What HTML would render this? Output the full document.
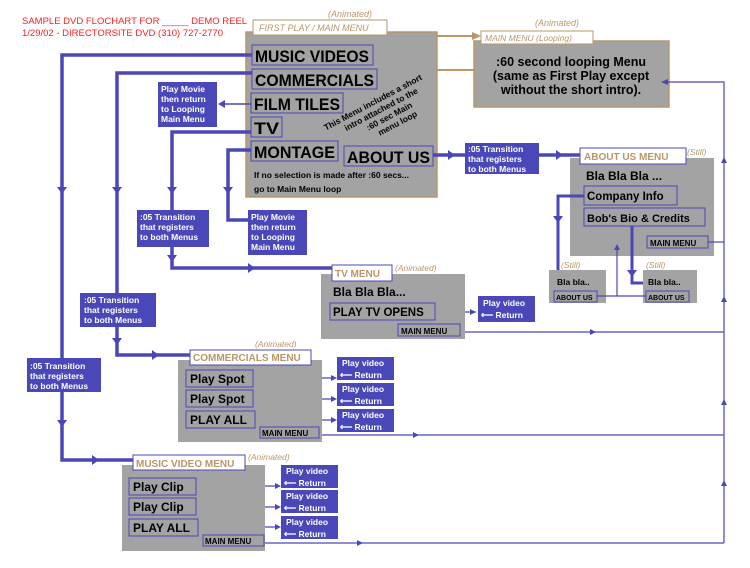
<!DOCTYPE html>
<html><head><meta charset="utf-8"><style>
body{margin:0;background:#fff}
svg{display:block}
text{font-family:"Liberation Sans",sans-serif}
.b{font-weight:bold}
</style></head><body>
<svg width="750" height="568" viewBox="0 0 750 568" xmlns="http://www.w3.org/2000/svg">
<defs>
<marker id="ar" viewBox="0 0 10 10" refX="5" refY="5" markerWidth="4" markerHeight="4" orient="auto"><path d="M0,0L10,5L0,10z" fill="#4a47b8"/></marker>
</defs>
<!-- title -->
<text x="22" y="24" font-size="9.5" fill="#ff2020">SAMPLE DVD FLOCHART FOR _____ DEMO REEL</text>
<text x="22" y="36" font-size="9.5" fill="#ff2020">1/29/02 - DIRECTORSITE DVD (310) 727-2770</text>

<!-- first play box -->
<rect x="246" y="32" width="191" height="165" fill="#a3a3a3" stroke="#b8976a" stroke-width="1.5"/>
<rect x="253" y="20" width="134" height="15" fill="#fff" stroke="#b8976a"/>
<text x="259" y="31" font-size="9" font-style="italic" fill="#b8976a">FIRST PLAY / MAIN MENU</text>
<text x="328" y="17" font-size="9" font-style="italic" fill="#b8976a">(Animated)</text>
<g stroke="#4a47b8" fill="none">
<rect x="252" y="45" width="121" height="20"/><rect x="252" y="69" width="125" height="20"/>
<rect x="251" y="93" width="92" height="20"/><rect x="251" y="117" width="31" height="20"/>
<rect x="251" y="141" width="87" height="20"/><rect x="344" y="146" width="89" height="20"/>
</g>
<g class="b" font-size="17" fill="#000" font-weight="bold">
<text x="255" y="62" textLength="114" lengthAdjust="spacingAndGlyphs">MUSIC VIDEOS</text>
<text x="255" y="86" textLength="119" lengthAdjust="spacingAndGlyphs">COMMERCIALS</text>
<text x="254" y="110" textLength="86" lengthAdjust="spacingAndGlyphs">FILM TILES</text>
<text x="254" y="134" textLength="25" lengthAdjust="spacingAndGlyphs">TV</text>
<text x="254" y="158" textLength="81" lengthAdjust="spacingAndGlyphs">MONTAGE</text>
<text x="347" y="163" textLength="83" lengthAdjust="spacingAndGlyphs">ABOUT US</text>
</g>
<text x="254" y="178" font-size="8.5" font-weight="bold">If no selection is made after :60 secs...</text>
<text x="254" y="192" font-size="8.5" font-weight="bold">go to Main Menu loop</text>
<g transform="translate(378,112) rotate(-28)" font-size="8.5" font-weight="bold" text-anchor="middle">
<text x="0" y="-8">This Menu includes a short</text>
<text x="4" y="2">intro attached to the</text>
<text x="8" y="12">:60 sec Main</text>
<text x="12" y="22">menu loop</text>
</g>

<!-- main menu looping -->
<rect x="474" y="41" width="195" height="66" fill="#a3a3a3" stroke="#b8976a" stroke-width="1.5"/>
<rect x="481" y="31" width="112" height="13" fill="#fff" stroke="#b8976a"/>
<text x="485" y="41" font-size="8.5" font-style="italic" fill="#b8976a">MAIN MENU (Looping)</text>
<text x="535" y="26" font-size="9" font-style="italic" fill="#b8976a">(Animated)</text>
<g font-size="12.5" font-weight="bold" text-anchor="middle">
<text x="571" y="66">:60 second looping Menu</text>
<text x="571" y="80">(same as First Play except</text>
<text x="571" y="94">without the short intro).</text>
</g>
<g stroke="#b8976a" stroke-width="2"><line x1="437" y1="36" x2="478" y2="36"/><line x1="437" y1="70" x2="474" y2="70"/></g>
<path d="M472,32L481,36L472,40z" fill="#b8976a"/>

<!-- left blue lines -->
<g stroke="#4a47b8" stroke-width="3.5" fill="none">
<polyline points="252,55 62,55 62,460 133,460"/>
<polyline points="252,73 117,73 117,355 190,355"/>
<polyline points="251,132 172,132 172,268 333,268"/>
<polyline points="251,150 228,150 228,220 248,220"/>
<polyline points="433,155 580,155"/>
</g>
<g fill="#4a47b8">
<path d="M57,187h10l-5,7z"/><path d="M112,187h10l-5,7z"/><path d="M167,187h10l-5,7z"/><path d="M223,187h10l-5,7z"/>
<path d="M167,255h10l-5,7z"/><path d="M112,338h10l-5,7z"/><path d="M57,420h10l-5,7z"/>
<path d="M92,455v10l7,-5z"/><path d="M152,350v10l7,-5z"/><path d="M248,263v10l7,-5z"/>
<path d="M448,150v10l7,-5z"/><path d="M556,150v10l7,-5z"/>
<path d="M225,100v8l-7,-4z"/>
</g>
<line x1="251" y1="104" x2="222" y2="104" stroke="#4a47b8" stroke-width="1.5"/>

<!-- blue boxes -->
<g fill="#4a47b8">
<rect x="158" y="82" width="59" height="45"/><rect x="248" y="210" width="59" height="45"/>
<rect x="137" y="210" width="72" height="37"/><rect x="80" y="293" width="76" height="34"/>
<rect x="27" y="358" width="74" height="34"/><rect x="465" y="143" width="74" height="31"/>
<rect x="478" y="296" width="57" height="26"/>
<rect x="337" y="357" width="57" height="23"/><rect x="337" y="383" width="57" height="23"/><rect x="337" y="409" width="57" height="23"/>
<rect x="281" y="465" width="57" height="23"/><rect x="281" y="490" width="57" height="23"/><rect x="281" y="516" width="57" height="23"/>
</g>
<g fill="#fff" font-size="8.5" font-weight="bold">
<text x="161" y="92">Play Movie</text><text x="161" y="102">then return</text><text x="161" y="112">to Looping</text><text x="161" y="122">Main Menu</text>
<text x="251" y="220">Play Movie</text><text x="251" y="230">then return</text><text x="251" y="240">to Looping</text><text x="251" y="250">Main Menu</text>
<text x="140" y="220">:05 Transition</text><text x="140" y="230">that registers</text><text x="140" y="240">to both Menus</text>
<text x="84" y="303">:05 Transition</text><text x="84" y="313">that registers</text><text x="84" y="323">to both Menus</text>
<text x="30" y="369">:05 Transition</text><text x="30" y="379">that registers</text><text x="30" y="389">to both Menus</text>
<text x="468" y="152">:05 Transition</text><text x="468" y="162">that registers</text><text x="468" y="172">to both Menus</text>
<text x="483" y="306">Play video</text><text x="481" y="318">⟵ Return</text>
<text x="342" y="366">Play video</text><text x="340" y="378">⟵ Return</text>
<text x="342" y="392">Play video</text><text x="340" y="404">⟵ Return</text>
<text x="342" y="418">Play video</text><text x="340" y="430">⟵ Return</text>
<text x="286" y="474">Play video</text><text x="284" y="486">⟵ Return</text>
<text x="286" y="499">Play video</text><text x="284" y="511">⟵ Return</text>
<text x="286" y="525">Play video</text><text x="284" y="537">⟵ Return</text>
</g>

<!-- About us menu -->
<rect x="570" y="158" width="144" height="98" fill="#a3a3a3"/>
<rect x="580" y="148" width="106" height="16" fill="#fff" stroke="#4a47b8"/>
<text x="584" y="160" font-size="10" font-weight="bold" fill="#b8976a">ABOUT US MENU</text>
<text x="687" y="155" font-size="8.5" font-style="italic" fill="#b8976a">(Still)</text>
<text x="586" y="180" font-size="12" font-weight="bold">Bla Bla Bla ...</text>
<g stroke="#4a47b8" fill="none"><rect x="584" y="186" width="93" height="19"/><rect x="584" y="208" width="121" height="18"/><rect x="647" y="236" width="61" height="12"/></g>
<text x="587" y="200" font-size="11.5" font-weight="bold">Company Info</text>
<text x="587" y="222" font-size="11" font-weight="bold">Bob's Bio &amp; Credits</text>
<text x="650" y="246" font-size="8" font-weight="bold">MAIN MENU</text>
<rect x="549" y="270" width="57" height="33" fill="#a3a3a3"/><rect x="643" y="270" width="54" height="33" fill="#a3a3a3"/>
<text x="561" y="268" font-size="8.5" font-style="italic" fill="#b8976a">(Still)</text>
<text x="646" y="268" font-size="8.5" font-style="italic" fill="#b8976a">(Still)</text>
<text x="557" y="285" font-size="8.5" font-weight="bold">Bla bla..</text>
<text x="648" y="285" font-size="8.5" font-weight="bold">Bla bla..</text>
<g stroke="#4a47b8" fill="none"><rect x="554" y="291" width="43" height="11"/><rect x="646" y="291" width="43" height="11"/></g>
<text x="556" y="300" font-size="7" font-weight="bold">ABOUT US</text>
<text x="648" y="300" font-size="7" font-weight="bold">ABOUT US</text>
<g stroke="#4a47b8" stroke-width="3" fill="none">
<polyline points="584,196 558,196 558,270"/><polyline points="632,226 632,283 643,283"/>
</g>
<g fill="#4a47b8"><path d="M553,216h10l-5,7z"/><path d="M627,270h10l-5,7z"/></g>
<g stroke="#4a47b8" stroke-width="1.2" fill="none">
<polyline points="597,296 646,296"/><line x1="617" y1="296" x2="617" y2="248"/>
<polyline points="708,242 724,242"/>
<polyline points="724,543 724,82 663,82"/>
<polyline points="460,332 724,332"/><polyline points="319,435 724,435"/><polyline points="264,543 724,543"/>
<line x1="435" y1="312" x2="476" y2="312"/>
<line x1="253" y1="378" x2="335" y2="378"/><line x1="253" y1="399" x2="335" y2="399"/><line x1="255" y1="420" x2="335" y2="420"/>
<line x1="196" y1="486" x2="279" y2="486"/><line x1="196" y1="507" x2="279" y2="507"/><line x1="198" y1="527" x2="279" y2="527"/>
</g>
<g fill="#4a47b8">
<path d="M614,250h6l-3,-6z"/><path d="M721,163h6l-3,-6z"/><path d="M721,302h6l-3,-6z"/><path d="M721,405h6l-3,-6z"/><path d="M721,486h6l-3,-6z"/>
<path d="M668,79v6l-7,-3z"/>
<path d="M470,309v6l6,-3z"/><path d="M590,329v6l6,-3z"/><path d="M413,432v6l6,-3z"/><path d="M357,540v6l6,-3z"/>
<path d="M331,375v6l6,-3z"/><path d="M331,396v6l6,-3z"/><path d="M331,417v6l6,-3z"/>
<path d="M275,483v6l6,-3z"/><path d="M275,504v6l6,-3z"/><path d="M275,524v6l6,-3z"/>
</g>

<!-- TV menu -->
<rect x="321" y="274" width="144" height="65" fill="#a3a3a3"/>
<rect x="332" y="265" width="60" height="16" fill="#fff" stroke="#4a47b8"/>
<text x="335" y="277" font-size="10" font-weight="bold" fill="#b8976a">TV  MENU</text>
<text x="395" y="271" font-size="8.5" font-style="italic" fill="#b8976a">(Animated)</text>
<text x="333" y="296" font-size="12" font-weight="bold">Bla Bla Bla...</text>
<g stroke="#4a47b8" fill="none"><rect x="330" y="303" width="105" height="17"/><rect x="398" y="324" width="62" height="12"/></g>
<text x="333" y="316" font-size="11.5" font-weight="bold">PLAY TV OPENS</text>
<text x="401" y="334" font-size="8" font-weight="bold">MAIN MENU</text>

<!-- Commercials menu -->
<rect x="178" y="360" width="144" height="82" fill="#a3a3a3"/>
<rect x="190" y="350" width="121" height="15" fill="#fff" stroke="#4a47b8"/>
<text x="193" y="361" font-size="10" font-weight="bold" fill="#b8976a">COMMERCIALS MENU</text>
<text x="255" y="347" font-size="8.5" font-style="italic" fill="#b8976a">(Animated)</text>
<g stroke="#4a47b8" fill="none"><rect x="186" y="370" width="67" height="17"/><rect x="186" y="390" width="67" height="17"/><rect x="186" y="411" width="69" height="17"/><rect x="260" y="427" width="59" height="11"/></g>
<g font-size="12" font-weight="bold"><text x="190" y="383">Play Spot</text><text x="190" y="403">Play Spot</text><text x="190" y="424">PLAY ALL</text></g>
<text x="262" y="436" font-size="8" font-weight="bold">MAIN MENU</text>

<!-- Music video menu -->
<rect x="122" y="465" width="143" height="86" fill="#a3a3a3"/>
<rect x="133" y="455" width="112" height="15" fill="#fff" stroke="#4a47b8"/>
<text x="136" y="467" font-size="10" font-weight="bold" fill="#b8976a">MUSIC VIDEO MENU</text>
<text x="248" y="460" font-size="8.5" font-style="italic" fill="#b8976a">(Animated)</text>
<g stroke="#4a47b8" fill="none"><rect x="129" y="478" width="67" height="17"/><rect x="129" y="498" width="67" height="17"/><rect x="129" y="519" width="69" height="17"/><rect x="203" y="535" width="61" height="11"/></g>
<g font-size="12" font-weight="bold"><text x="133" y="491">Play Clip</text><text x="133" y="511">Play Clip</text><text x="133" y="532">PLAY ALL</text></g>
<text x="205" y="544" font-size="8" font-weight="bold">MAIN MENU</text>
</svg>
</body></html>
